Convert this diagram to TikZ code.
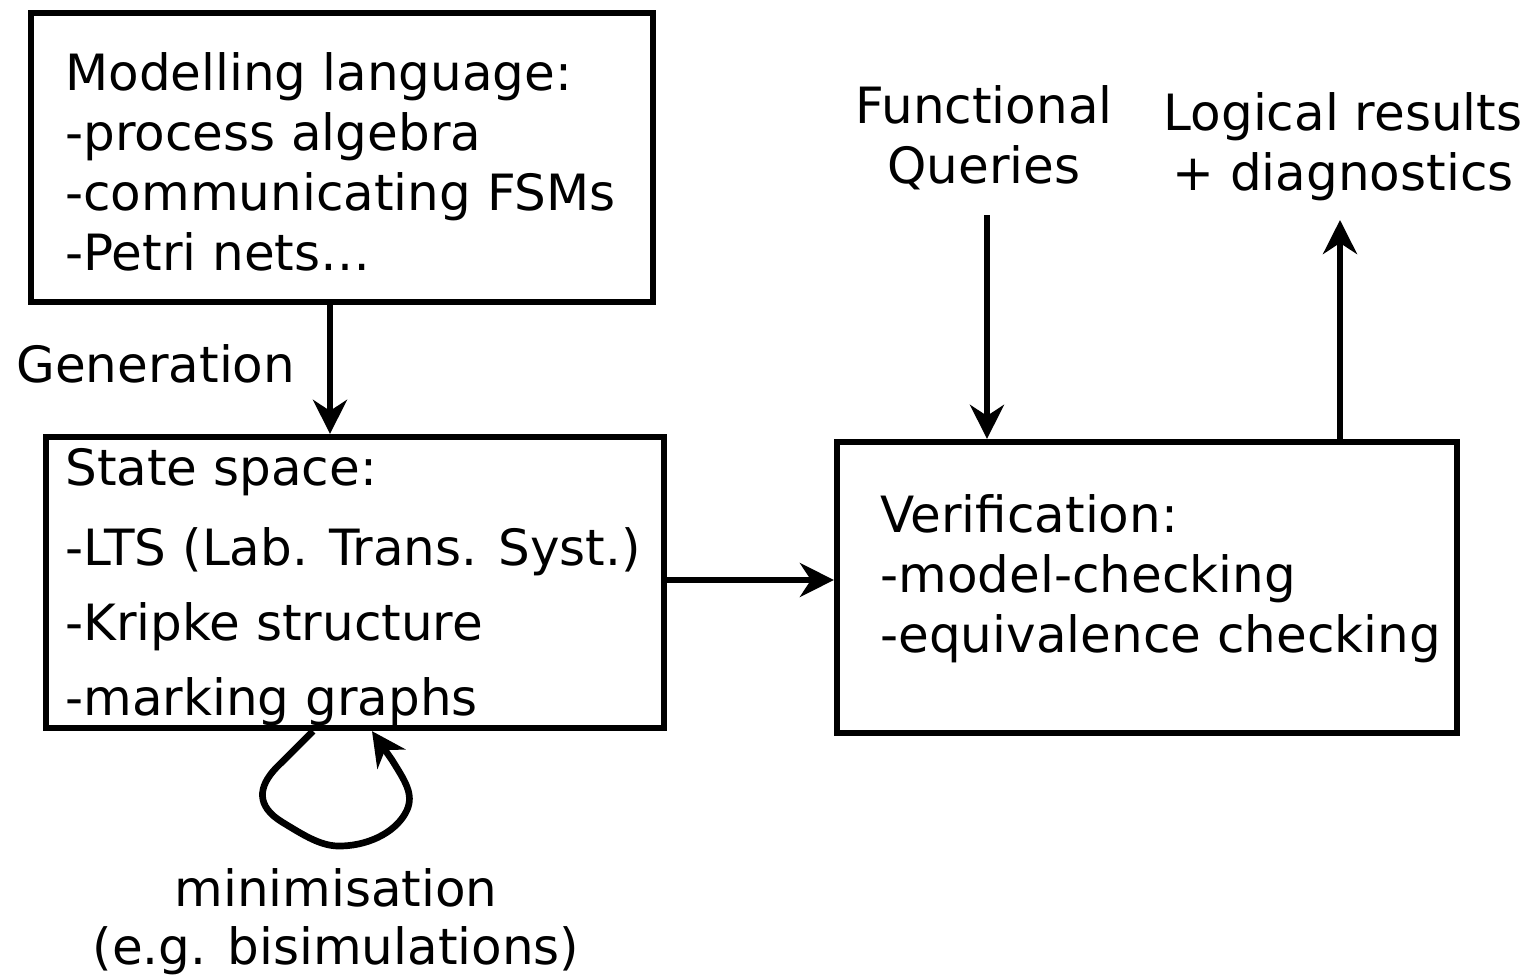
\documentclass[tikz,border=0pt]{standalone}
\usepackage{fontspec}
\setmainfont{DejaVu Sans}
\usetikzlibrary{arrows.meta}
\begin{document}
\begin{tikzpicture}[x=0.02cm,y=-0.02cm,
  every node/.style={font=\fontsize{28.45pt}{34.14pt}\selectfont, inner sep=0pt},
  boxst/.style={draw, line width=3.6pt, rectangle},
  arr/.style={line width=3.2pt, -{Stealth[length=0.68cm, width=0.68cm, inset=0.22cm]}},
  txt/.style={align=left, anchor=north west}]
\useasboundingbox (0,0) rectangle (1531,980);
% boxes
\node[boxst, minimum width=12.44cm, minimum height=5.78cm] (b1) at (342,157.5) {};
\node[boxst, minimum width=12.36cm, minimum height=5.82cm] (b2) at (355,582.5) {};
\node[boxst, minimum width=12.40cm, minimum height=5.82cm] (b3) at (1147,587.5) {};
% texts
\node[txt] (t1) at (65,52) {Modelling language:\\-process algebra\\-communicating FSMs\\-Petri nets…};
\node[txt, font=\fontsize{28.45pt}{42.68pt}\selectfont] (t2) at (65,448) {State space:\\[0.1cm]-LTS (Lab. Trans. Syst.)\\-Kripke structure\\-marking graphs};
\node[txt] (t3) at (880,494) {Verification:\\-model-checking\\-equivalence checking};
\node[anchor=base west] (gen) at (16,382) {Generation};
\node[align=center, anchor=north] (fq) at (984,85) {Functional\\Queries};
\node[align=center, anchor=north] (lr) at (1343,92) {Logical results\\+ diagnostics};
\node[align=center, anchor=north, font=\fontsize{28.45pt}{33pt}\selectfont] (mini) at (336,868) {minimisation\\(e.g. bisimulations)};
% connectors
\coordinate (gx) at (330,0);
\coordinate (hy) at (0,580);
\coordinate (fqs) at (987,215);
\coordinate (lre) at (1340,220);
\draw[arr] (b1.south -| gx) -- (b2.north -| gx);
\draw[arr] (b2.east |- hy) -- (b3.west |- hy);
\draw[arr] (fqs) -- (b3.north -| fqs);
\draw[arr] (b3.north -| lre) -- (lre);
% self loop
\coordinate (ls) at (313,727);
\coordinate (le) at (372,729);
\draw[line width=3.8pt, line join=round, -{Stealth[length=0.68cm, width=0.68cm, inset=0.22cm]}]
  (b2.south -| ls) -- (276,768)
  .. controls (258,787) and (256,806) .. (282,822)
  .. controls (305,836) and (322,847) .. (342,846)
  .. controls (372,845) and (398,830) .. (407,810)
  .. controls (414,794) and (405,781) .. (392,760)
  -- (b2.south -| le);
\end{tikzpicture}
\end{document}
